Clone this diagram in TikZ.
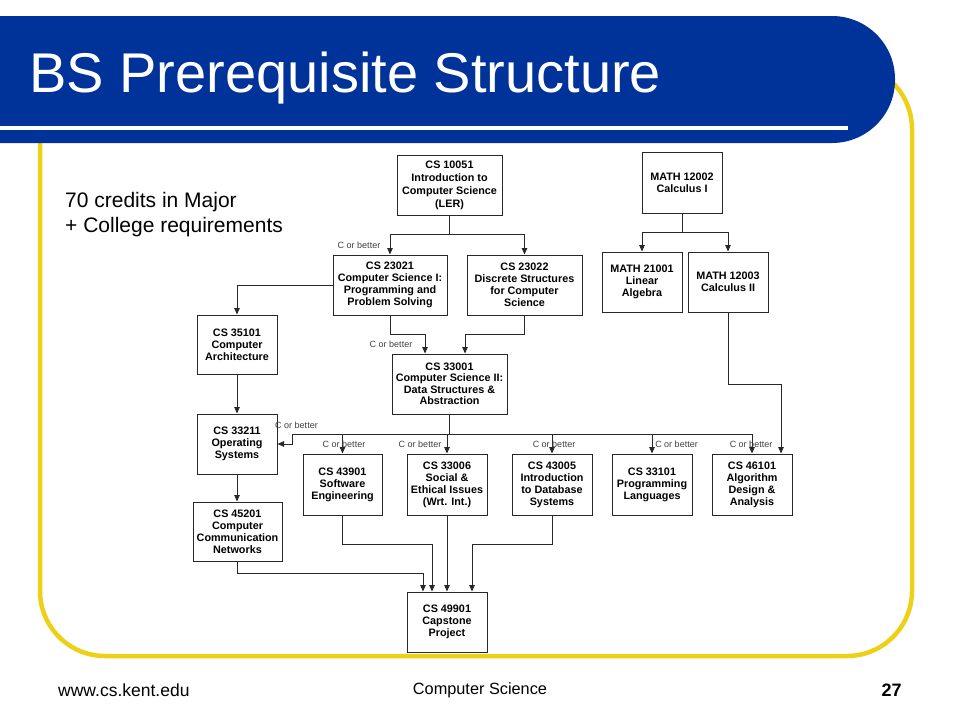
\documentclass[tikz,border=0pt]{standalone}
\usepackage{fontspec}
\setmainfont{Liberation Sans}
\usetikzlibrary{arrows.meta}
\definecolor{kentblue}{RGB}{0,51,153}
\definecolor{kentyellow}{RGB}{238,208,22}
\definecolor{linegray}{RGB}{40,40,40}
\begin{document}
\begin{tikzpicture}[x=1pt,y=-1pt,
  box/.style={draw=linegray, line width=1pt, fill=white, align=center, inner sep=1pt,
    font=\bfseries\fontsize{10.8}{12}\selectfont},
  arr/.style={draw=linegray, line width=0.9pt, -{Triangle[length=6.5pt,width=5.5pt]}},
  cob/.style={font=\fontsize{9}{10}\selectfont, text=black!75, inner sep=0pt},
  foot/.style={inner sep=0pt, anchor=west}
]
\useasboundingbox (0,0) rectangle (960,720);
% frame and title band
\draw[kentyellow, line width=4.5pt, rounded corners=65pt] (40,64) rectangle (912,656);
\fill[kentblue, rounded corners=63pt] (-70,16) rectangle (895,143);
\fill[white] (0,126) rectangle (848,130);
\node[anchor=base west, text=white, inner sep=0pt, font=\fontsize{56}{60}\selectfont] (title) at (29,92) {BS Prerequisite Structure};

% intro text
\node[anchor=west, align=left, inner sep=0pt, font=\fontsize{21}{25}\selectfont] (intro) at (65,215) {70 credits in Major\\+ College requirements};

% footer
\node[foot, font=\fontsize{17.5}{20}\selectfont] (url) at (58,690) {www.cs.kent.edu};
\node[inner sep=0pt, font=\fontsize{16.3}{20}\selectfont] (dept) at (480,690) {Computer Science};
\node[inner sep=0pt, font=\bfseries\fontsize{18}{20}\selectfont] (page) at (891.5,690) {27};

% boxes
\node[box, minimum width=105pt, minimum height=60pt, font=\bfseries\fontsize{10.8}{13}\selectfont] (c10051) at (449.5,185) {CS 10051\\Introduction to\\Computer Science\\(LER)};
\node[box, minimum width=114pt, minimum height=60pt] (c23021) at (390,285) {CS 23021\\Computer Science I:\\Programming and\\Problem Solving};
\node[box, minimum width=115pt, minimum height=60pt] (c23022) at (524.5,285) {CS 23022\\Discrete Structures\\for Computer\\Science};
\node[box, minimum width=80pt, minimum height=61pt] (m12002) at (682,182.5) {MATH 12002\\Calculus I};
\node[box, minimum width=80pt, minimum height=60pt] (m21001) at (642,282) {MATH 21001\\Linear\\Algebra};
\node[box, minimum width=80pt, minimum height=60pt] (m12003) at (728,282) {MATH 12003\\Calculus II};
\node[box, minimum width=80pt, minimum height=59pt] (c35101) at (237,344.5) {CS 35101\\Computer\\Architecture};
\node[box, minimum width=115pt, minimum height=60pt, font=\bfseries\fontsize{10.8}{11.5}\selectfont] (c33001) at (449.5,384) {CS 33001\\Computer Science II:\\Data Structures \&\\Abstraction};
\node[box, minimum width=80pt, minimum height=60pt] (c33211) at (237,444) {CS 33211\\Operating\\Systems};
\node[box, minimum width=89pt, minimum height=59pt] (c45201) at (237.5,531.5) {CS 45201\\Computer\\Communication\\Networks};
\node[box, minimum width=79pt, minimum height=61pt] (c43901) at (342.5,484.5) {CS 43901\\Software\\Engineering};
\node[box, minimum width=80pt, minimum height=61pt] (c33006) at (447,484.5) {CS 33006\\Social \&\\Ethical Issues\\(Wrt. Int.)};
\node[box, minimum width=80pt, minimum height=61pt] (c43005) at (552,484.5) {CS 43005\\Introduction\\to Database\\Systems};
\node[box, minimum width=80pt, minimum height=61pt] (c33101) at (652,484.5) {CS 33101\\Programming\\Languages};
\node[box, minimum width=80pt, minimum height=61pt] (c46101) at (752,484.5) {CS 46101\\Algorithm\\Design \&\\Analysis};
\node[box, minimum width=80pt, minimum height=60pt] (c49901) at (447,622) {CS 49901\\Capstone\\Project};

% connectors
\draw[arr] (c10051.south) -- ++(0,19) -| (c23021.north);
\draw[arr] (c10051.south) -- ++(0,19) -| (c23022.north);
\node[cob] (l1) at (359,245) {C or better};

\draw[arr] (m12002.south) -- ++(0,19) -| (m21001.north);
\draw[arr] (m12002.south) -- ++(0,19) -| (m12003.north);

\draw[arr] (c23021.west) -| (c35101.north);
\draw[arr] (c35101.south) -- (c33211.north);

\draw[arr] (c23021.south) -- ++(0,19) -| ([xshift=-24.5pt]c33001.north);
\node[cob] (l2) at (391,344) {C or better};
\draw[arr] (c23022.south) -- ++(0,19) -| ([xshift=15.5pt]c33001.north);

\draw[arr] (c33001.south) -- ++(0,20) -| ([xshift=15pt]c33211.east) -- (c33211.east);
\draw[arr] (c33001.south) -- ++(0,20) -| (c43901.north);
\draw[arr] (c33001.south) -- ++(0,20) -| (c33006.north);
\draw[arr] (c33001.south) -- ++(0,20) -| (c43005.north);
\draw[arr] (c33001.south) -- ++(0,20) -| (c33101.north);
\draw[arr] (c33001.south) -- ++(0,20) -| (c46101.north);
\node[cob] (l3) at (296.5,425) {C or better};
\node[cob] (l4) at (344,444) {C or better};
\node[cob] (l5) at (420,444) {C or better};
\node[cob] (l6) at (554,444) {C or better};
\node[cob] (l7) at (676.5,444) {C or better};
\node[cob] (l8) at (751,444) {C or better};

\draw[arr] (m12003.south) -- ++(0,72) -| ([xshift=29pt]c46101.north);

\draw[arr] (c33211.south) -- (c33211.south |- c45201.north);
\draw[arr] (c45201.south) -- ++(0,12) -| ([xshift=-24pt]c49901.north);
\draw[arr] (c43901.south) -- ++(0,29) -| ([xshift=-15pt]c49901.north);
\draw[arr] (c33006.south) -- (c49901.north);
\draw[arr] (c43005.south) -- ++(0,29) -| ([xshift=25pt]c49901.north);
\end{tikzpicture}
\end{document}
